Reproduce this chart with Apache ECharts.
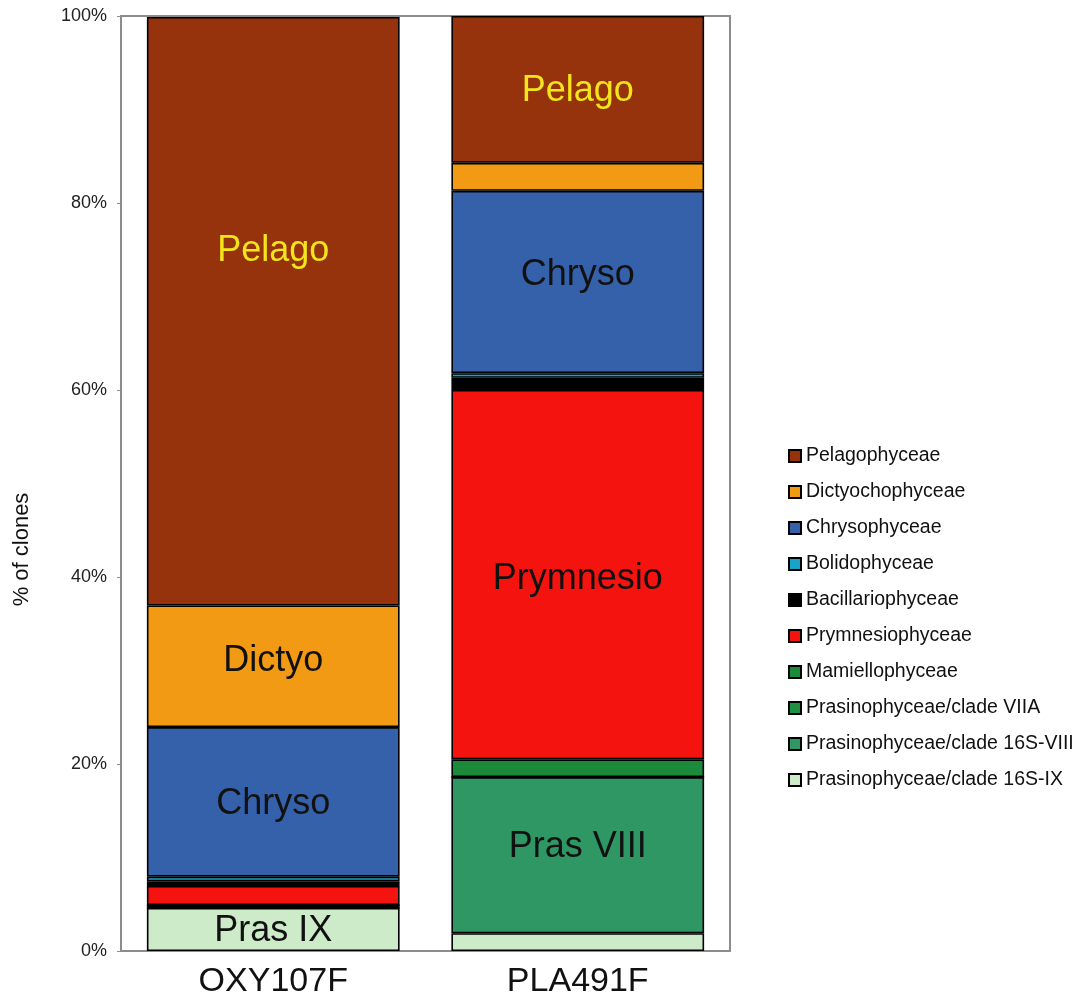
<!DOCTYPE html>
<html>
<head>
<meta charset="utf-8">
<script src="https://cdn.jsdelivr.net/npm/echarts@6/dist/echarts.min.js"></script>
<style>
html,body{margin:0;padding:0;background:#fff;}
#chart{width:1081px;height:1007px;}
</style>
</head>
<body>
<div id="chart"></div>
<script>
// Samples
const categories = ['OXY107F', 'PLA491F'];
// Series names (stack order bottom -> top)
const seriesNames = [
  'Prasinophyceae/clade 16S-IX',
  'Prasinophyceae/clade 16S-VIII',
  'Prasinophyceae/clade VIIA',
  'Mamiellophyceae',
  'Prymnesiophyceae',
  'Bacillariophyceae',
  'Bolidophyceae',
  'Chrysophyceae',
  'Dictyochophyceae',
  'Pelagophyceae'
];
// Percent of clones per sample [OXY107F, PLA491F]
const pras16SIX   = [4.6, 1.9];
const pras16SVIII = [0, 16.7];
const prasVIIA    = [0.3, 0];
const mamiello    = [0, 1.9];
const prymnesio   = [2.05, 39.5];
const bacillario  = [0.5, 1.3];
const bolido      = [0.5, 0.5];
const chryso      = [16.0, 19.5];
const dictyo      = [13.0, 3.0];
const pelago      = [62.95, 15.7];
const seriesValues = [pras16SIX, pras16SVIII, prasVIIA, mamiello, prymnesio, bacillario, bolido, chryso, dictyo, pelago];
// In-bar labels
const pras16SIXLabels   = ['Pras IX', ''];
const pras16SVIIILabels = ['', 'Pras VIII'];
const prymnesioLabels   = ['', 'Prymnesio'];
const chrysoLabels      = ['Chryso', 'Chryso'];
const dictyoLabels      = ['Dictyo', ''];
const pelagoLabels      = ['Pelago', 'Pelago'];
const seriesLabels = [pras16SIXLabels, pras16SVIIILabels, null, null, prymnesioLabels, null, null, chrysoLabels, dictyoLabels, pelagoLabels];
// Legend order (top -> bottom)
const legendOrder = seriesNames.slice().reverse();
// Y ticks
const yTicks = [0, 20, 40, 60, 80, 100];

const colors = ['#cdebc8', '#2e9764', '#1d9140', '#1b8a3a', '#f5130f', '#000000', '#1aa3c9', '#3561ab', '#f39a14', '#96330c'];
const labelColors = ['#111', '#111', '#111', '#111', '#111', '#111', '#111', '#111', '#111', '#f2e51c'];
const labelOffsets = {'Pelagophyceae': [[0, -60], [0, 2]], 'Chrysophyceae': [[0, 2], [0, -7]], 'Dictyochophyceae': [[0, -5], [0, 0]], 'Prymnesiophyceae': [[0, 4], [0, 4]], 'Prasinophyceae/clade 16S-VIII': [[0, 0], [0, -8]], 'Prasinophyceae/clade 16S-IX': [[0, 2], [0, 0]]};

const series = seriesNames.map((name, si) => ({
  name: name,
  type: 'bar',
  stack: 'total',
  barWidth: '83%',
  itemStyle: {color: colors[si], borderColor: '#000', borderWidth: 1.6},
  emphasis: {disabled: true},
  data: seriesValues[si].map((v, ci) => {
    const txt = seriesLabels[si] ? seriesLabels[si][ci] : '';
    const off = labelOffsets[name] ? labelOffsets[name][ci] : [0, 0];
    return {
      value: v,
      label: {
        show: !!txt,
        position: 'inside',
        formatter: txt,
        color: labelColors[si],
        fontSize: 36,
        fontFamily: 'Liberation Sans, Arial, sans-serif',
        offset: off
      }
    };
  })
}));

const chart = echarts.init(document.getElementById('chart'));
chart.setOption({
  animation: false,
  backgroundColor: '#fff',
  grid: {left: 121, right: 351, top: 16, bottom: 56, show: true, borderColor: '#8c8c8c', borderWidth: 2, backgroundColor: 'transparent'},
  legend: {
    data: legendOrder,
    orient: 'vertical',
    left: 783,
    top: 441,
    icon: 'rect',
    itemWidth: 12,
    itemHeight: 12,
    itemGap: 16,
    textStyle: {fontSize: 19.5, color: '#111', fontFamily: 'Liberation Sans, Arial, sans-serif'},
    selectedMode: false
  },
  xAxis: {
    type: 'category',
    data: categories,
    axisLine: {lineStyle: {color: '#8c8c8c', width: 2}},
    axisTick: {show: false},
    axisLabel: {fontSize: 34, color: '#111', margin: 14, fontFamily: 'Liberation Sans, Arial, sans-serif'}
  },
  yAxis: {
    type: 'value',
    min: yTicks[0],
    max: yTicks[yTicks.length - 1],
    interval: yTicks[1] - yTicks[0],
    name: '% of clones',
    nameLocation: 'middle',
    nameGap: 88,
    nameTextStyle: {fontSize: 22, color: '#111', fontFamily: 'Liberation Sans, Arial, sans-serif', padding: [0, 132, 0, 0]},
    axisLine: {show: true, lineStyle: {color: '#8c8c8c', width: 2}},
    axisTick: {show: true, length: 4, lineStyle: {color: '#8c8c8c', width: 1}},
    splitLine: {show: false},
    axisLabel: {formatter: '{value}%', fontSize: 18, color: '#222', margin: 14, fontFamily: 'Liberation Sans, Arial, sans-serif'}
  },
  series: series
});
</script>
</body>
</html>
